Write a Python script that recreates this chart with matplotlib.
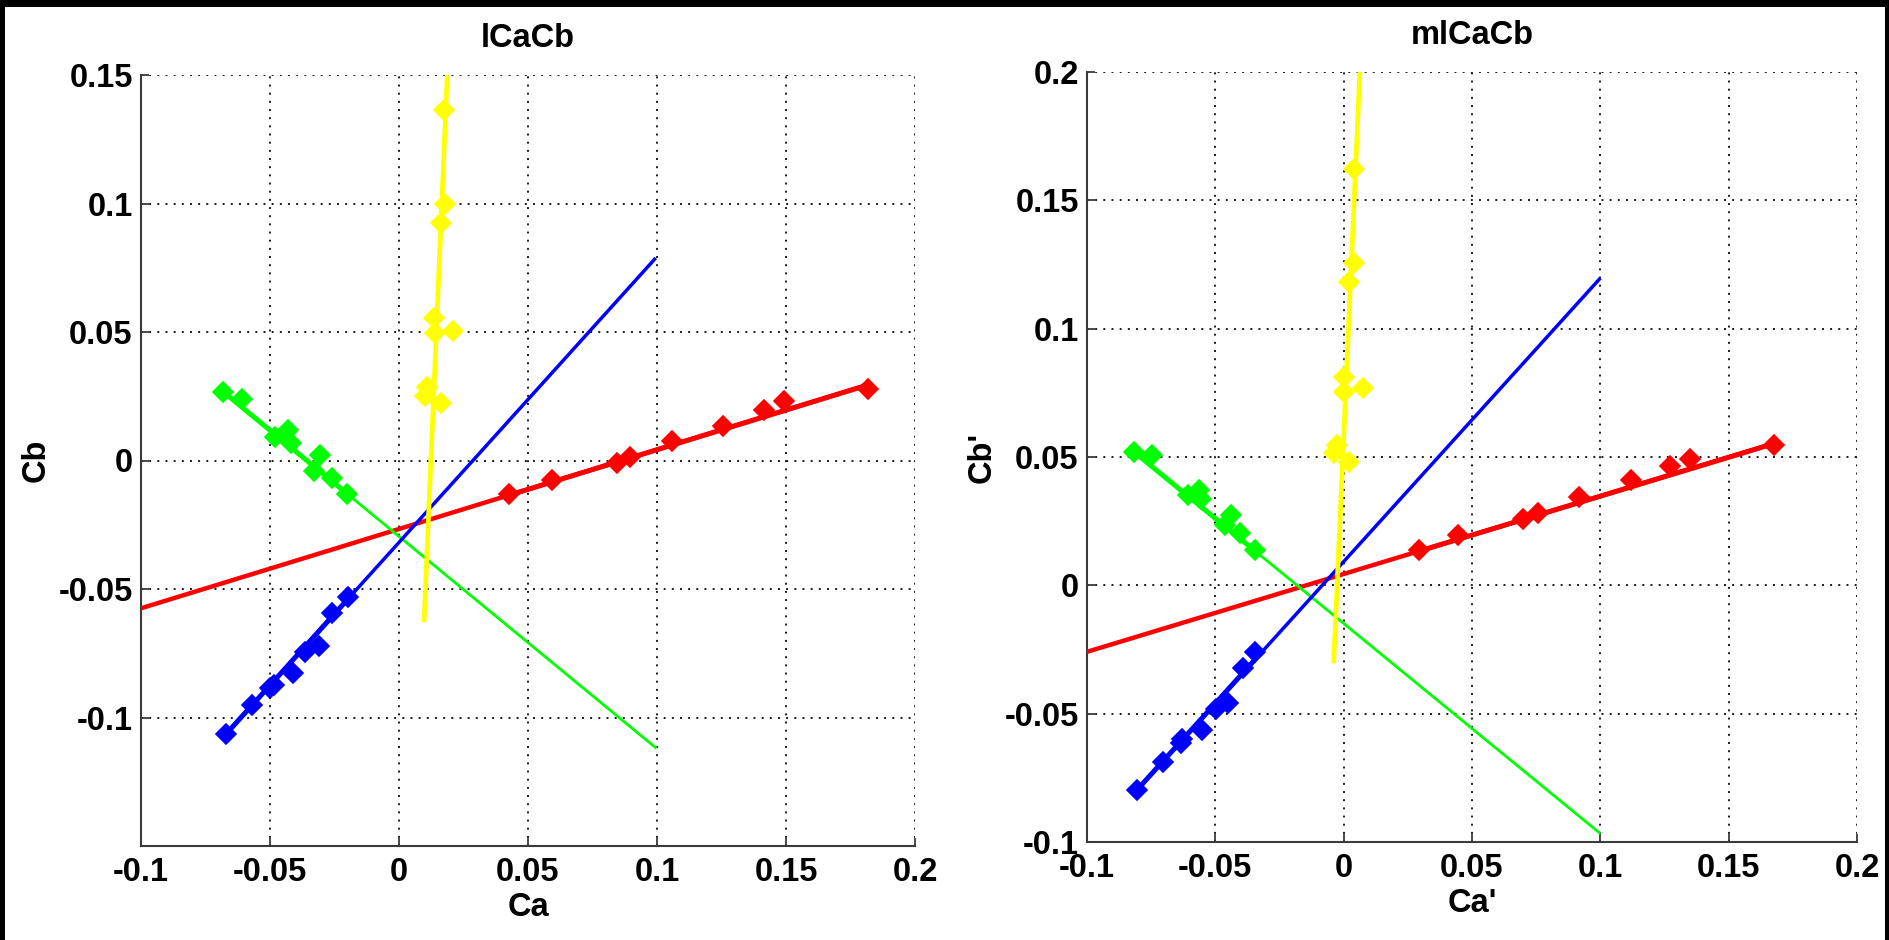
import numpy as np
import matplotlib
matplotlib.use("Agg")
import matplotlib.pyplot as plt
from matplotlib.patches import Rectangle

plt.rcParams['font.family'] = ['Liberation Sans', 'DejaVu Sans']
plt.rcParams['font.weight'] = 'bold'

# ---------------- lCaCb panel ----------------
l_red_x = [0.0427, 0.0592, 0.0845, 0.0897, 0.1060, 0.1254, 0.1413, 0.1493, 0.1817]
l_red_y = [-0.0131, -0.0075, -0.0010, 0.0014, 0.0075, 0.0136, 0.0197, 0.0230, 0.0280]
l_red_fit_x = [-0.1, 0.182]
l_red_fit_y = [-0.0575, 0.0295]

l_blue_x = [-0.0671, -0.0570, -0.0500, -0.0486, -0.0410, -0.0366, -0.0310, -0.0258, -0.0197]
l_blue_y = [-0.1065, -0.0950, -0.0886, -0.0872, -0.0825, -0.0745, -0.0720, -0.0595, -0.0530]
l_blue_fit_x = [-0.0671, 0.0995]
l_blue_fit_y = [-0.1065, 0.0788]

l_green_x = [-0.0683, -0.0610, -0.0480, -0.0430, -0.0420, -0.0305, -0.0330, -0.0260, -0.0200]
l_green_y = [0.0265, 0.0240, 0.0090, 0.0120, 0.0070, 0.0020, -0.0040, -0.0070, -0.0130]
l_green_fit_x = [-0.0683, 0.0998]
l_green_fit_y = [0.0269, -0.1120]

l_yellow_x = [0.0173, 0.0177, 0.0161, 0.0135, 0.0139, 0.0209, 0.0108, 0.0102, 0.0161]
l_yellow_y = [0.1364, 0.0999, 0.0926, 0.0553, 0.0497, 0.0505, 0.0287, 0.0250, 0.0225]
l_yellow_fit_x = [0.0097, 0.0187]
l_yellow_fit_y = [-0.0629, 0.1500]

# ---------------- mlCaCb panel ----------------
r_red_x = [0.0292, 0.0445, 0.0700, 0.0757, 0.0918, 0.1118, 0.1272, 0.1348, 0.1678]
r_red_y = [0.0138, 0.0196, 0.0257, 0.0281, 0.0343, 0.0410, 0.0466, 0.0494, 0.0547]
r_red_fit_x = [-0.1, 0.1678]
r_red_fit_y = [-0.0259, 0.0553]

r_blue_x = [-0.0806, -0.0705, -0.0634, -0.0629, -0.0551, -0.0499, -0.0452, -0.0393, -0.0346]
r_blue_y = [-0.0798, -0.0688, -0.0616, -0.0597, -0.0564, -0.0480, -0.0460, -0.0324, -0.0259]
r_blue_fit_x = [-0.0806, 0.1000]
r_blue_fit_y = [-0.0798, 0.1197]

r_green_x = [-0.0818, -0.0747, -0.0606, -0.0563, -0.0554, -0.0464, -0.0440, -0.0405, -0.0346]
r_green_y = [0.0521, 0.0506, 0.0352, 0.0372, 0.0335, 0.0235, 0.0274, 0.0203, 0.0138]
r_green_fit_x = [-0.0818, 0.1000]
r_green_fit_y = [0.0521, -0.0967]

r_yellow_x = [0.0039, 0.0039, 0.0020, 0.0001, 0.0001, 0.0074, -0.0039, -0.0027, 0.0020]
r_yellow_y = [0.1622, 0.1255, 0.1180, 0.0813, 0.0752, 0.0770, 0.0515, 0.0547, 0.0482]
r_yellow_fit_x = [-0.0039, 0.0063]
r_yellow_fit_y = [-0.0304, 0.2000]

x_ticks = [-0.1, -0.05, 0, 0.05, 0.1, 0.15, 0.2]
x_ticklabels = ['-0.1', '-0.05', '0', '0.05', '0.1', '0.15', '0.2']
l_y_ticks = [-0.1, -0.05, 0, 0.05, 0.1, 0.15]
l_y_ticklabels = ['-0.1', '-0.05', '0', '0.05', '0.1', '0.15']
r_y_ticks = [-0.1, -0.05, 0, 0.05, 0.1, 0.15, 0.2]
r_y_ticklabels = ['-0.1', '-0.05', '0', '0.05', '0.1', '0.15', '0.2']

RED, GREEN, BLUE, YELLOW = '#ff0000', '#00ff00', '#0000ff', '#ffff00'
SPINE = '#3a3a3a'


def draw_series(ax, xs, ys, fx, fy, color, fit_lw, seg_lw=3.6):
    # fitted line across its full extent
    ax.plot(fx, fy, color=color, lw=fit_lw, solid_capstyle='butt', zorder=3)
    # heavier segment over the span covered by the samples
    if abs(fx[1] - fx[0]) > 0.02:
        sx = [min(xs), max(xs)]
        sy = np.interp(sx, fx, fy)
        ax.plot(sx, sy, color=color, lw=seg_lw, solid_capstyle='butt', zorder=3)
    ax.plot(xs, ys, linestyle='none', marker='D', ms=10.3, mfc=color, mec=color,
            mew=1.2, zorder=4)


def style_axes(ax, yticks, yticklabels, ylim, title, xlabel, ylabel):
    ax.set_xlim(-0.1, 0.2)
    ax.set_ylim(*ylim)
    ax.set_xticks(x_ticks)
    ax.set_xticklabels(x_ticklabels)
    ax.set_yticks(yticks)
    ax.set_yticklabels(yticklabels)
    ax.set_axisbelow(True)
    ax.grid(True, color='#1a1a1a', linestyle=(0, (1, 3.2)), lw=1.4)
    for s in ('top', 'right'):
        ax.spines[s].set_visible(False)
    for s in ('left', 'bottom'):
        ax.spines[s].set_color(SPINE)
        ax.spines[s].set_linewidth(1.5)
    ax.tick_params(direction='in', length=5.5, width=1.3, color=SPINE,
                   labelsize=23.5, pad=6)
    ax.tick_params(axis='x', pad=8)
    for lab in ax.get_xticklabels() + ax.get_yticklabels():
        lab.set_fontweight('bold')
    ax.set_title(title, fontsize=23.5, fontweight='bold', pad=20)
    ax.set_xlabel(xlabel, fontsize=23.5, fontweight='bold', labelpad=3)
    ax.set_ylabel(ylabel, fontsize=23.5, fontweight='bold', labelpad=5)
    ax.set_facecolor('white')


fig = plt.figure(figsize=(18.9, 9.4), dpi=100, facecolor='black')
fig.patches.append(Rectangle((5 / 1890, 0), 1880 / 1890, 933 / 940,
                             transform=fig.transFigure, facecolor='white',
                             edgecolor='none', zorder=-10))

ax1 = fig.add_axes([141 / 1890, 94 / 940, 774 / 1890, 771 / 940])
draw_series(ax1, l_red_x, l_red_y, l_red_fit_x, l_red_fit_y, RED, fit_lw=3.2)
draw_series(ax1, l_green_x, l_green_y, l_green_fit_x, l_green_fit_y, GREEN, fit_lw=2.0)
draw_series(ax1, l_blue_x, l_blue_y, l_blue_fit_x, l_blue_fit_y, BLUE, fit_lw=2.5)
draw_series(ax1, l_yellow_x, l_yellow_y, l_yellow_fit_x, l_yellow_fit_y, YELLOW, fit_lw=3.4)
style_axes(ax1, l_y_ticks, l_y_ticklabels, (-0.15, 0.15), 'lCaCb', 'Ca', 'Cb')

ax2 = fig.add_axes([1087 / 1890, 98 / 940, 770 / 1890, 770 / 940])
draw_series(ax2, r_red_x, r_red_y, r_red_fit_x, r_red_fit_y, RED, fit_lw=3.2)
draw_series(ax2, r_green_x, r_green_y, r_green_fit_x, r_green_fit_y, GREEN, fit_lw=2.0)
draw_series(ax2, r_blue_x, r_blue_y, r_blue_fit_x, r_blue_fit_y, BLUE, fit_lw=2.5)
draw_series(ax2, r_yellow_x, r_yellow_y, r_yellow_fit_x, r_yellow_fit_y, YELLOW, fit_lw=3.4)
style_axes(ax2, r_y_ticks, r_y_ticklabels, (-0.1, 0.2), 'mlCaCb', "Ca'", "Cb'")

fig.savefig('out.png', dpi=100, facecolor=fig.get_facecolor())
